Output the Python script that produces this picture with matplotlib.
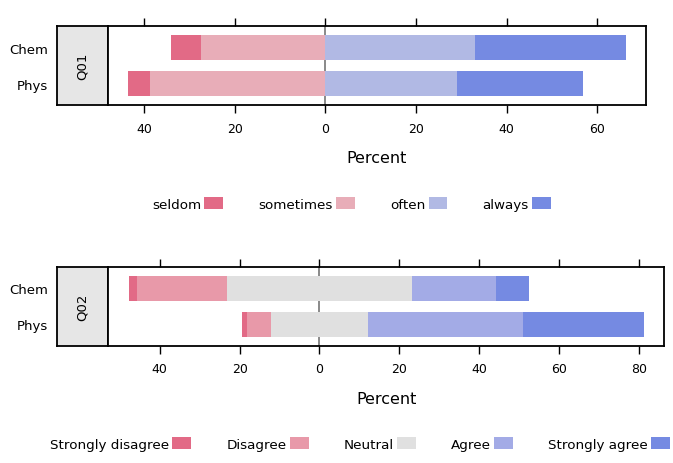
import numpy as np
import matplotlib
matplotlib.use('Agg')
import matplotlib.pyplot as plt
from matplotlib.patches import Patch

# rows from bottom to top
groups = ['Phys', 'Chem']

# Q01 - frequency scale
q01_levels = ['seldom', 'sometimes', 'often', 'always']
q01_colors = ['#E26A86', '#E8ADB8', '#B1B9E4', '#758AE2']
q01_phys = [4.9, 38.7, 29.0, 27.8]
q01_chem = [6.6, 27.5, 33.1, 33.3]
q01_ticks = [-40, -20, 0, 20, 40, 60]

# Q02 - agreement scale
q02_levels = ['Strongly disagree', 'Disagree', 'Neutral', 'Agree', 'Strongly agree']
q02_colors = ['#E26A86', '#E899A9', '#E0E0E0', '#A3ABE6', '#758AE2']
q02_phys = [1.2, 6.0, 24.2, 38.8, 30.3]
q02_chem = [2.0, 22.6, 46.4, 21.0, 8.2]
q02_ticks = [-40, -20, 0, 20, 40, 60, 80]

W, H = 673, 464


def frac(x0, y0, x1, y1):
    # pixel box -> figure fraction [left, bottom, width, height]
    return [x0 / W, 1 - y1 / H, (x1 - x0) / W, (y1 - y0) / H]


def panel(fig, strip_box, main_box, name, levels, colors, rows, ticks):
    ax_s = fig.add_axes(frac(*strip_box))
    ax = fig.add_axes(frac(*main_box))

    lo, hi = 0, 0
    for i, vals in enumerate(rows):
        n = len(vals)
        half = n // 2
        start = -sum(vals[:half])
        if n % 2 == 1:
            start -= vals[half] / 2
        lefts = start + np.concatenate([[0], np.cumsum(vals)[:-1]])
        ax.barh(np.full(n, i + 1), vals, left=lefts, height=0.7,
                color=colors, edgecolor='none', zorder=2)
        lo = min(lo, start)
        hi = max(hi, start + sum(vals))

    pad = 0.04 * (hi - lo)
    ax.set_xlim(lo - pad, hi + pad)
    ax.set_ylim(0.4, 2.6)
    ax.axvline(0, color='#808080', lw=1.3, zorder=1)
    ax.set_xticks(ticks)
    ax.set_xticklabels([str(abs(t)) for t in ticks], fontsize=9)
    ax.set_yticks([])
    ax.tick_params(axis='x', top=True, direction='out', length=6, width=1, pad=6)
    ax.set_xlabel('Percent', fontsize=11.5, labelpad=11)
    for sp in ax.spines.values():
        sp.set_linewidth(1.3)

    ax_s.set_facecolor('#E6E6E6')
    ax_s.set_xlim(0, 1)
    ax_s.set_ylim(0.4, 2.6)
    ax_s.set_xticks([])
    ax_s.set_yticks([1, 2])
    ax_s.set_yticklabels(groups, fontsize=9.5)
    ax_s.tick_params(axis='y', length=0, pad=6)
    ax_s.text(0.5, 1.5, name, rotation=90, ha='center', va='center', fontsize=9.5)
    for sp in ax_s.spines.values():
        sp.set_linewidth(1.3)

    handles = [Patch(facecolor=c, edgecolor='none', label=l) for l, c in zip(levels, colors)]
    return handles


fig = plt.figure(figsize=(W / 100, H / 100), dpi=100)

h1 = panel(fig, (56.7, 27.3, 108, 106.3), (108, 27.3, 646, 106.3), 'Q01',
           q01_levels, q01_colors, [q01_phys, q01_chem], q01_ticks)
h2 = panel(fig, (56.7, 268, 108, 346.7), (108, 268, 664.3, 346.7), 'Q02',
           q02_levels, q02_colors, [q02_phys, q02_chem], q02_ticks)

leg_kw = dict(loc='center', frameon=False, markerfirst=False, handlelength=1.4,
              handleheight=0.9, handletextpad=0.25, columnspacing=2.6,
              fontsize=9.7, borderpad=0)
fig.legend(handles=h1, ncol=4, bbox_to_anchor=(351.5 / W, 1 - 205 / H), **leg_kw)
fig.legend(handles=h2, ncol=5, bbox_to_anchor=(360 / W, 1 - 445 / H), **leg_kw)

fig.savefig('out.png', dpi=100)
